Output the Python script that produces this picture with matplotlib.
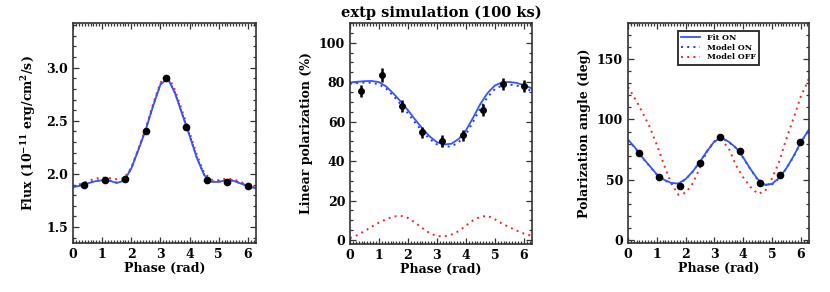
import numpy as np
import matplotlib
matplotlib.use("Agg")
import matplotlib.pyplot as plt
from matplotlib.ticker import MultipleLocator, FormatStrFormatter

plt.rcParams['font.family'] = ['DejaVu Serif']
plt.rcParams['font.weight'] = 'bold'
plt.rcParams['axes.titleweight'] = 'bold'
plt.rcParams['axes.labelweight'] = 'bold'
plt.rcParams['mathtext.fontset'] = 'dejavuserif'
plt.rcParams['mathtext.default'] = 'bf'

# phase grid for the model curves
phase_grid = [0.0, 0.25, 0.5, 0.75, 1.0, 1.25, 1.5, 1.75, 2.0, 2.25, 2.5, 2.75, 3.0,
              3.25, 3.5, 3.75, 4.0, 4.25, 4.5, 4.75, 5.0, 5.25, 5.5, 5.75, 6.0, 6.25, 6.283]

# data points
phase_pts = [0.39, 1.09, 1.79, 2.49, 3.19, 3.89, 4.59, 5.29, 5.99]
flux_pts = [1.90, 1.94, 1.95, 2.40, 2.90, 2.44, 1.94, 1.92, 1.89]
lp_pts = [75.5, 83.5, 68.0, 54.5, 50.0, 53.0, 66.0, 79.0, 78.0]
lp_err = [3.0, 3.5, 3.0, 3.0, 3.0, 3.0, 3.0, 3.0, 3.0]
pa_pts = [72.0, 52.5, 45.0, 63.5, 85.5, 73.5, 47.5, 53.5, 81.0]

# flux curves
flux_fit = [1.875, 1.89, 1.91, 1.93, 1.94, 1.935, 1.915, 1.935, 2.05, 2.23, 2.42, 2.64, 2.84,
            2.90, 2.76, 2.56, 2.36, 2.15, 1.99, 1.925, 1.925, 1.94, 1.935, 1.91, 1.885, 1.865, 1.862]
flux_mod_on = [1.878, 1.893, 1.913, 1.933, 1.943, 1.938, 1.918, 1.938, 2.053, 2.235, 2.425, 2.645, 2.845,
               2.905, 2.765, 2.565, 2.365, 2.155, 1.993, 1.928, 1.928, 1.943, 1.938, 1.913, 1.888, 1.868, 1.865]
flux_mod_off = [1.885, 1.905, 1.93, 1.955, 1.965, 1.96, 1.95, 1.955, 2.06, 2.24, 2.43, 2.66, 2.86,
                2.93, 2.79, 2.59, 2.39, 2.18, 2.01, 1.945, 1.94, 1.955, 1.95, 1.925, 1.895, 1.87, 1.867]

# linear polarization curves
lp_fit = [79.8, 80.2, 80.5, 80.6, 80.0, 77.8, 74.2, 70.2, 65.8, 61.0, 56.5, 52.5, 49.6,
          48.4, 48.8, 51.2, 55.5, 62.0, 69.0, 74.5, 78.3, 79.9, 80.1, 79.6, 78.5, 77.0, 76.8]
lp_mod_on = [79.2, 79.6, 79.8, 79.7, 78.9, 76.7, 73.0, 68.8, 64.2, 59.5, 55.0, 51.2, 48.5,
             47.2, 47.5, 49.5, 53.5, 60.0, 66.8, 72.5, 76.5, 78.3, 78.8, 78.3, 77.2, 75.6, 75.3]
lp_mod_off = [1.0, 2.5, 4.5, 6.8, 8.8, 10.6, 11.9, 12.3, 11.2, 8.8, 6.0, 3.5, 2.0,
              1.8, 2.8, 4.5, 7.3, 10.0, 11.8, 12.3, 10.5, 8.3, 6.5, 4.8, 3.3, 2.2, 2.0]

# polarization angle curves
pa_fit = [83.3, 76.5, 68.5, 61.5, 54.5, 50.0, 47.3, 46.8, 50.5, 56.8, 65.0, 73.8, 81.8,
          84.8, 81.5, 76.5, 68.5, 59.0, 50.5, 45.8, 46.5, 51.5, 59.5, 69.5, 81.0, 90.5, 91.7]
pa_mod_on = [83.0, 76.2, 68.2, 61.2, 54.2, 49.6, 46.9, 46.4, 50.2, 56.6, 64.8, 73.6, 81.6,
             84.6, 81.3, 76.2, 68.2, 58.7, 50.1, 45.4, 46.1, 51.2, 59.2, 69.2, 80.7, 90.2, 91.4]
pa_mod_off = [127.0, 117.0, 106.0, 94.0, 79.0, 62.5, 47.0, 37.5, 39.0, 47.0, 60.0, 74.0, 82.0,
              83.0, 76.0, 62.0, 52.0, 44.0, 38.5, 40.0, 51.0, 65.0, 84.0, 101.0, 119.0, 132.0, 134.5]

blue = '#3355ff'
blue_dot = '#2233ff'
red = '#ff2222'

fig = plt.figure(figsize=(8.3, 2.92), dpi=100)
ax1 = fig.add_axes([0.088, 0.168, 0.2205, 0.753])
ax2 = fig.add_axes([0.4217, 0.1644, 0.2193, 0.757])
ax3 = fig.add_axes([0.7566, 0.168, 0.218, 0.753])

dot = (0, (1, 2.2))


def style(ax, ymaj, ymin, fmt):
    ax.set_xlim(0, 6.283)
    ax.xaxis.set_major_locator(MultipleLocator(1))
    ax.xaxis.set_minor_locator(MultipleLocator(0.1))
    ax.yaxis.set_major_locator(MultipleLocator(ymaj))
    ax.yaxis.set_minor_locator(MultipleLocator(ymin))
    ax.yaxis.set_major_formatter(FormatStrFormatter(fmt))
    ax.tick_params(which='both', direction='in', top=True, right=True, labelsize=9, width=0.9,
                   color='#333333')
    ax.tick_params(which='major', length=4.5)
    ax.tick_params(which='minor', length=2.2)
    for lab in ax.get_xticklabels() + ax.get_yticklabels():
        lab.set_fontweight('bold')
    for s in ax.spines.values():
        s.set_linewidth(1.2)
        s.set_color('#333333')
    ax.set_xlabel('Phase (rad)', fontsize=9, fontweight='bold', labelpad=1)


# Flux
ax1.plot(phase_grid, flux_mod_off, color=red, lw=1.4, ls=dot)
ax1.plot(phase_grid, flux_mod_on, color=blue_dot, lw=1.4, ls=dot)
ax1.plot(phase_grid, flux_fit, color=blue, lw=1.3)
ax1.plot(phase_pts, flux_pts, 'o', color='black', ms=4.5)
ax1.set_ylim(1.35, 3.42)
style(ax1, 0.5, 0.1, '%.1f')
ax1.set_ylabel('Flux (10$^{-11}$ erg/cm$^2$/s)', fontsize=9, fontweight='bold', labelpad=6)

# Linear polarization
ax2.plot(phase_grid, lp_mod_off, color=red, lw=1.4, ls=dot)
ax2.plot(phase_grid, lp_mod_on, color=blue_dot, lw=1.4, ls=dot)
ax2.plot(phase_grid, lp_fit, color=blue, lw=1.3)
ax2.errorbar(phase_pts, lp_pts, yerr=lp_err, fmt='o', color='black', ms=4, elinewidth=1.8, capsize=0)
ax2.set_ylim(-2, 110)
style(ax2, 20, 5, '%d')
ax2.set_ylabel('Linear polarization (%)', fontsize=9, fontweight='bold', labelpad=4)
ax2.set_title('extp simulation (100 ks)', fontsize=10.5, fontweight='bold', pad=4)

# Polarization angle
ax3.plot(phase_grid, pa_mod_off, color=red, lw=1.4, ls=dot, label='Model OFF')
ax3.plot(phase_grid, pa_mod_on, color=blue_dot, lw=1.4, ls=dot, label='Model ON')
ax3.plot(phase_grid, pa_fit, color=blue, lw=1.3, label='Fit ON')
ax3.plot(phase_pts, pa_pts, 'o', color='black', ms=4.5)
ax3.set_ylim(-2.5, 180)
style(ax3, 50, 10, '%d')
ax3.set_ylabel('Polarization angle (deg)', fontsize=9, fontweight='bold', labelpad=4)

h, l = ax3.get_legend_handles_labels()
leg = ax3.legend(h[::-1], l[::-1], loc='upper center', bbox_to_anchor=(0.5, 0.975),
                 prop={'size': 5.8, 'weight': 'bold'},
                 frameon=True, fancybox=False, handlelength=2.4, handletextpad=0.8,
                 labelspacing=0.2, borderpad=0.4, borderaxespad=0.3)
leg.get_frame().set_edgecolor('black')
leg.get_frame().set_linewidth(1.4)

fig.savefig('out.png', dpi=100)
